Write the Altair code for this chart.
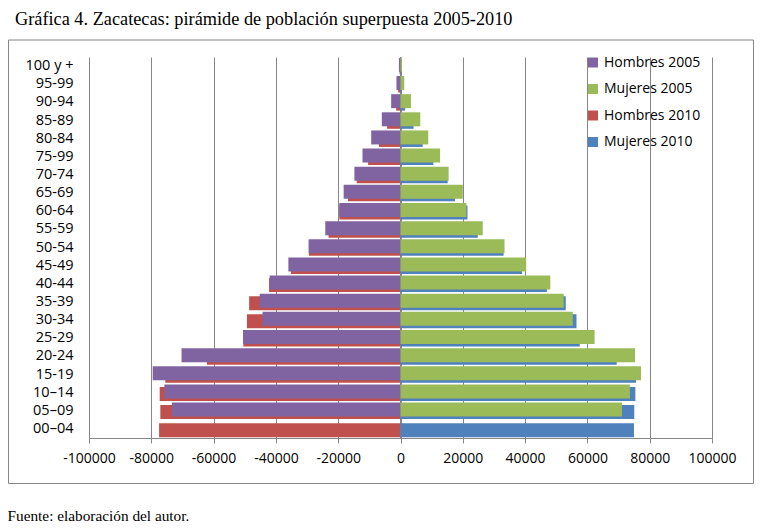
import altair as alt
import pandas as pd

ages = ["100 y +", "95-99", "90-94", "85-89", "80-84", "75-99", "70-74", "65-69",
        "60-64", "55-59", "50-54", "45-49", "40-44", "35-39", "30-34", "25-29",
        "20-24", "15-19", "10–14", "05–09", "00–04"]

hombres_2005 = [500, 1300, 3000, 6000, 9400, 12200, 14800, 18250, 19650, 24150, 29500,
                36000, 42000, 45200, 44300, 50550, 70300, 79550, 75800, 73400, 0]
mujeres_2005 = [450, 1200, 3350, 6350, 8900, 12700, 15450, 20000, 21150, 26400, 33400,
                40350, 48100, 52400, 55300, 62300, 75300, 77200, 73650, 71100, 0]
hombres_2010 = [300, 750, 1400, 4300, 6900, 10400, 14050, 16850, 19650, 23100, 29400,
                35200, 42200, 48600, 49300, 50450, 62150, 75500, 77300, 77100, 77500]
mujeres_2010 = [200, 500, 1500, 4200, 7100, 10550, 15150, 17500, 21500, 24800, 33100,
                39000, 47000, 53050, 56500, 57550, 69400, 75600, 75400, 75050, 74950]

series_names = ["Hombres 2005", "Mujeres 2005", "Hombres 2010", "Mujeres 2010"]
series_colors = ["#8064A2", "#9BBB59", "#C0504D", "#4F81BD"]
x_ticks = [-100000, -80000, -60000, -40000, -20000, 0, 20000, 40000, 60000, 80000, 100000]

title_text = "Gráfica 4. Zacatecas: pirámide de población superpuesta 2005-2010"
footer_text = "Fuente: elaboración del autor."

rows = []
for i, a in enumerate(ages):
    rows.append(dict(edad=a, serie="Hombres 2005", anio="2005", valor=-hombres_2005[i]))
    rows.append(dict(edad=a, serie="Mujeres 2005", anio="2005", valor=mujeres_2005[i]))
    rows.append(dict(edad=a, serie="Hombres 2010", anio="2010", valor=-hombres_2010[i]))
    rows.append(dict(edad=a, serie="Mujeres 2010", anio="2010", valor=mujeres_2010[i]))
df = pd.DataFrame(rows)

GRAY = "#868686"
FONT = "Open Sans"

x_enc = alt.X("valor:Q",
              scale=alt.Scale(domain=[-100000, 100000], nice=False),
              axis=alt.Axis(title=None, values=x_ticks, labelExpr="datum.value + ''",
                            labelOverlap=False, labelFlush=False,
                            tickSize=5, tickColor=GRAY, domainColor=GRAY, gridColor=GRAY,
                            gridOpacity=1, labelFont=FONT, labelFontSize=14,
                            labelColor="#000", labelPadding=8))
y_enc = alt.Y("edad:N", sort=ages,
              scale=alt.Scale(paddingInner=0, paddingOuter=0),
              axis=alt.Axis(title=None, domain=False, ticks=False, grid=False,
                            labelPadding=16, labelFont=FONT, labelFontSize=14.5,
                            labelColor="#000"))
color_enc = alt.Color("serie:N",
                      scale=alt.Scale(domain=series_names, range=series_colors),
                      legend=alt.Legend(title=None, orient="none", legendX=497, legendY=-1.5,
                                        symbolType="square", symbolSize=100,
                                        symbolStrokeWidth=0, labelFont=FONT,
                                        labelFontSize=14, labelColor="#000",
                                        rowPadding=12.5, labelOffset=4))

bars_2010 = alt.Chart(df).transform_filter("datum.anio == '2010'").mark_bar(
    size=14, yOffset=1.3).encode(x=x_enc, y=y_enc, color=color_enc)
bars_2005 = alt.Chart(df).transform_filter("datum.anio == '2005'").mark_bar(
    size=14, yOffset=-1.2).encode(x=x_enc, y=y_enc, color=color_enc)

zero_rule = alt.Chart(pd.DataFrame({"valor": [0]})).mark_rule(
    color=GRAY, strokeWidth=1).encode(x="valor:Q")

one = pd.DataFrame({"k": [0]})
frame = alt.Chart(one).mark_rect(fillOpacity=0, stroke=GRAY, strokeWidth=1).encode(
    x=alt.value(-80.5), x2=alt.value(664.5), y=alt.value(-17), y2=alt.value(426.5))
title = alt.Chart(one).mark_text(text=title_text, font="Liberation Serif", fontSize=18.3,
                                 align="left", baseline="alphabetic", color="#000").encode(
    x=alt.value(-74), y=alt.value(-32.5))
footer = alt.Chart(one).mark_text(text=footer_text, font="Liberation Serif", fontSize=15.3,
                                  align="left", baseline="alphabetic", color="#000").encode(
    x=alt.value(-81.5), y=alt.value(464))

chart = alt.layer(frame, zero_rule, bars_2010, bars_2005, title, footer).properties(
    width=623, height=381,
    padding={"left": 81, "top": 49, "right": 42, "bottom": 85},
    autosize="none",
    background="white",
).configure_view(strokeOpacity=0)

chart.save("out.html", embed_options={"renderer": "svg", "actions": False})
